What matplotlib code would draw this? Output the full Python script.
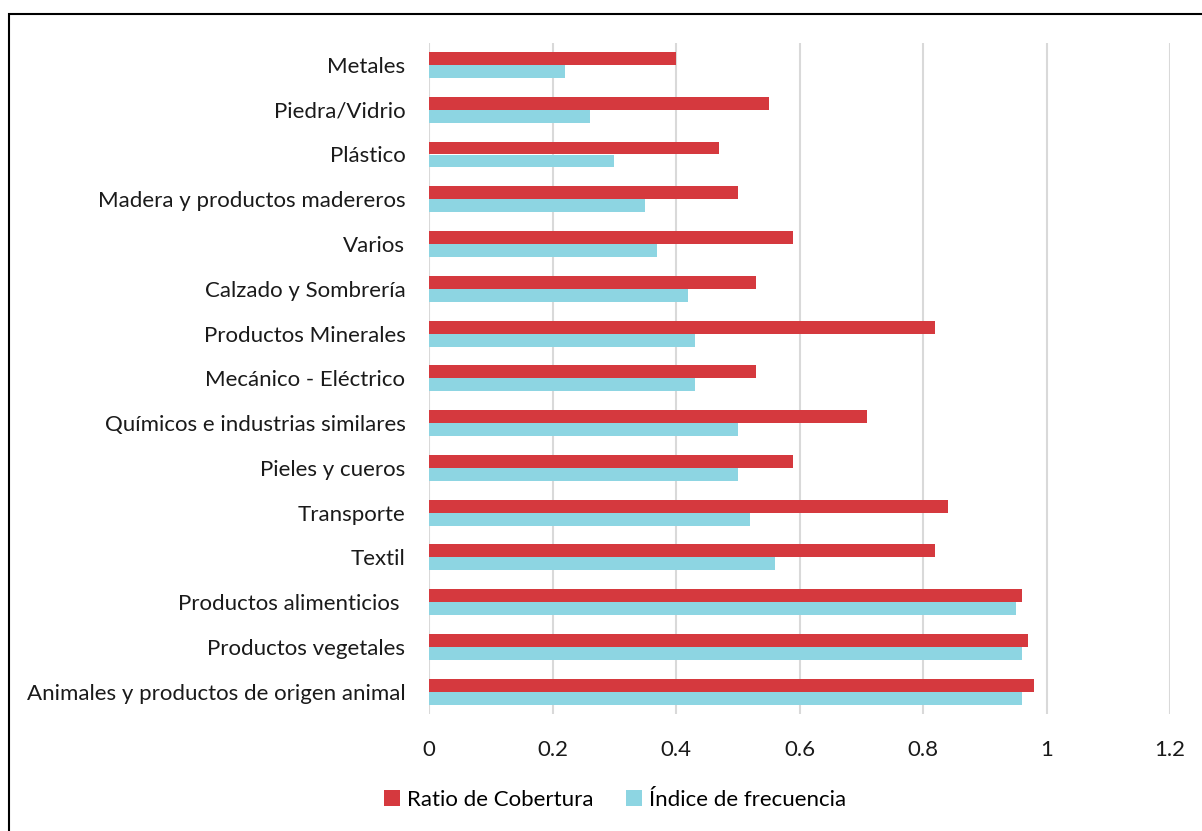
import matplotlib
matplotlib.use("Agg")
import matplotlib.pyplot as plt
import numpy as np
from matplotlib.patches import Rectangle

categories = [
    "Metales",
    "Piedra/Vidrio",
    "Plástico",
    "Madera y productos madereros",
    "Varios",
    "Calzado y Sombrería",
    "Productos Minerales",
    "Mecánico - Eléctrico",
    "Químicos e industrias similares",
    "Pieles y cueros",
    "Transporte",
    "Textil",
    "Productos alimenticios ",
    "Productos vegetales",
    "Animales y productos de origen animal",
]
ratio_cobertura = [0.40, 0.55, 0.47, 0.50, 0.59, 0.53, 0.82, 0.53, 0.71, 0.59, 0.84, 0.82, 0.96, 0.97, 0.98]
indice_frecuencia = [0.22, 0.26, 0.30, 0.35, 0.37, 0.42, 0.43, 0.43, 0.50, 0.50, 0.52, 0.56, 0.95, 0.96, 0.96]
xticks = [0, 0.2, 0.4, 0.6, 0.8, 1, 1.2]
xtick_labels = ["0", "0.2", "0.4", "0.6", "0.8", "1", "1.2"]

RED = "#D5393E"
CYAN = "#8DD5E2"

plt.rcParams['font.family'] = ['Lato', 'DejaVu Sans']
FS = 16

fig = plt.figure(figsize=(12.02, 8.31), dpi=100)
ax = fig.add_axes([429/1202, 1-714/831, (1170-429)/1202, (714-42.6)/831])

n = len(categories)
y = np.arange(n)
h = 0.29
ax.barh(y - h/2, ratio_cobertura, height=h, color=RED, label="Ratio de Cobertura", zorder=3)
ax.barh(y + h/2, indice_frecuencia, height=h, color=CYAN, label="Índice de frecuencia", zorder=3)

ax.set_ylim(n - 0.5, -0.5)
ax.set_xlim(0, 1.2)
ax.set_yticks(y)
ax.set_yticklabels(categories, fontsize=FS, color="#1a1a1a")
ax.set_xticks(xticks)
ax.set_xticklabels(xtick_labels, fontsize=FS, color="#1a1a1a")
ax.tick_params(axis='both', length=0)
ax.tick_params(axis='y', pad=17)
ax.tick_params(axis='x', pad=19)
ax.grid(axis='x', color="#D9D9D9", linewidth=1.5, zorder=0)
for s in ax.spines.values():
    s.set_visible(False)

fig.legend(loc="center", bbox_to_anchor=(615/1202, 1-800/831), ncol=2, frameon=False,
           fontsize=FS, handlelength=0.7, handleheight=0.7, handletextpad=0.3,
           columnspacing=1.5)

# outer border (left and top visible)
fig.add_artist(Rectangle((9/1202, -0.1), 1.2, 1-13.5/831 + 0.1, transform=fig.transFigure,
                         fill=False, edgecolor="black", linewidth=1.5))

fig.savefig("out.png", dpi=100)
